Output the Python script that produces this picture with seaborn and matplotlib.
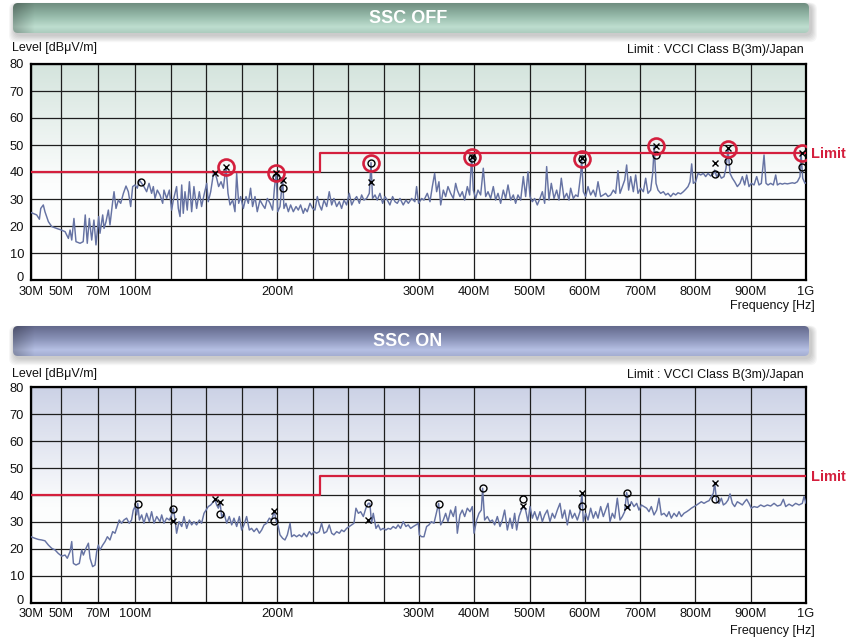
import numpy as np
import matplotlib
matplotlib.use("Agg")
import matplotlib.pyplot as plt
import matplotlib.transforms as mtransforms
import seaborn as sns
import pandas as pd
from matplotlib.patches import FancyBboxPatch

# ---------------- data (MHz, dBuV/m) ----------------
off_freq = [30, 33.8, 35.6, 36.5, 38.2, 39.3, 41.6, 43.8, 47.1, 50.2, 52.2, 54, 54.9, 55.8, 57, 58.1,
            60.3, 62, 63.1, 64.2, 65.3, 66.6, 67.8, 68.9, 70.6, 71.6, 73.8, 74.9, 76.5, 78.4, 79.7,
            81.9, 83, 84.6, 86.5, 88.4, 90.6, 92.7, 94.6, 96.5, 98.1, 100, 101.6, 103.1, 104.7,
            106.3, 108.2, 109.9, 111.7, 112.9, 114.1, 115.7, 117.6, 119.5, 120.4, 122.3, 124.2,
            125.8, 127, 129.3, 130.5, 131.7, 132.9, 134, 135.2, 136.8, 138.3, 139.9, 141.5, 143.4,
            145.3, 146.9, 148.6, 150.5, 151.6, 153.3, 155.2, 156.3, 157.5, 158.9, 160.6, 162.2,
            164.1, 165.5, 166.9, 168.8, 170.4, 171.6, 173, 174.4, 176.3, 178.2, 179.8, 181.4, 182.8,
            184.5, 186.1, 188, 189.9, 191.5, 193.2, 195.1, 196.9, 198.3, 199.5, 200.5, 202.1, 204,
            204.9, 206.3, 208, 209.6, 211.5, 213.4, 215, 216.6, 218.5, 219.7, 221.3, 223.2, 225.1,
            226.7, 228.4, 229.8, 231.4, 233.1, 235, 236.8, 238.5, 240.1, 242, 243.9, 245.5, 247.2,
            249, 250.9, 252.6, 254.2, 256.1, 258, 259.6, 261.2, 263.1, 265, 266.2, 267.3, 269,
            270.6, 272.5, 274.4, 276, 277.7, 279.5, 281.4, 283.1, 284.7, 286.6, 288.9, 290.8,
            292.5, 294.8, 297.1, 298.3, 299.7, 304.8, 309, 315, 319.9, 324.1, 328.3, 331.9, 336.1,
            339.2, 344, 348.2, 352.4, 357.2, 362.1, 366.3, 369.3, 374.1, 378.3, 382.6, 387.4,
            391.6, 395.2, 398.2, 402.5, 406.7, 411.5, 416.3, 420.6, 424.8, 429.6, 434.4, 438.6,
            442.9, 447.7, 452.5, 456.7, 461, 465.8, 470.6, 474.8, 479, 483.9, 488.7, 492.9, 497.1,
            500.8, 505, 509.2, 514, 518.8, 523.1, 527.3, 530.9, 535.1, 539.3, 544.2, 549, 553.2,
            557.4, 562.3, 567.1, 571.3, 574.3, 579.1, 583.4, 587.6, 592.4, 594.2, 597.2, 601.5,
            605.7, 610.5, 615.3, 619.5, 623.8, 628.6, 633.4, 637.6, 641.9, 646.7, 651.5, 655.7,
            659.9, 663.6, 667.8, 672, 675.6, 679.2, 682.9, 687.7, 691.9, 696.1, 701, 705.8, 710,
            714.2, 719, 722.7, 725.5, 728.7, 732.3, 737.1, 742, 746.2, 750.4, 755.2, 760, 764.3,
            768.5, 773.3, 778.1, 782.4, 786.6, 790.2, 793.2, 796.2, 800.4, 804.7, 809.5, 814.3,
            818.5, 822.8, 827.6, 832.4, 834.8, 838.4, 842.7, 846.9, 851.7, 855.3, 858.9, 862.6,
            866.8, 871, 875.8, 880.6, 884.9, 889.1, 892.7, 896.9, 901.1, 906, 910.8, 915, 919.2,
            924.1, 927.7, 931.3, 936.1, 940.9, 945.2, 948.2, 953, 957.2, 961.4, 966.3, 971.1,
            975.3, 979.5, 984.4, 989.2, 991, 994, 998.2, 1000]
off_level = [25, 24.1, 22.5, 26.5, 27.8, 25.3, 21.6, 19.8, 19.1, 18.5, 17.9, 15.4, 18.5, 14.8, 22.8, 14.2,
             13.6, 14.2, 24.1, 13.6, 22.8, 14.8, 22.2, 13, 23.5, 17.3, 24.1, 19.1, 21.6, 25.9, 20.4,
             29, 32.7, 26.5, 29.6, 28.4, 32.1, 34.8, 32.7, 27.2, 34.6, 35.2, 34, 37, 35.8,
             34.6, 32.7, 35.8, 32.1, 34.6, 30.2, 33.3, 31.5, 28.4, 33.3, 30.2, 33.3,
             25.9, 29.6, 34.6, 26.5, 23.5, 35.2, 24.7, 32.7, 25.9, 36.4, 25.3, 34.6, 26.5,
             32.7, 27.2, 31.5, 35.8, 29, 32.7, 39.3, 39.7, 37.7, 34.6, 36.4, 34,
             42, 32.1, 27.8, 29.6, 25.3, 39.5, 28.4, 30.9, 26.5, 30.9, 28.4, 34, 27.2,
             30.9, 25.3, 29.6, 27.8, 26.5, 30.2, 28.4, 25.9, 34.6, 39.8, 25.3, 27.2, 37.6,
             26.5, 28.4, 25.3, 27.8, 25.3, 27.2, 25.9, 27.8, 24.7, 26.5, 25.3, 28.4, 26.5,
             25.9, 30.9, 27.8, 25.9, 29.6, 27.2, 32.7, 27.8, 30.2, 27.2, 29, 26.5, 29.6,
             27.8, 32.1, 27.8, 29.6, 30.9, 28.4, 31.5, 29.6, 30.2, 32.1, 43.5, 30.2, 31.5,
             29.6, 32.1, 28.4, 30.9, 29.6, 27.8, 30.9, 29, 28.4, 30.2, 27.8, 29.6,
             28.4, 30.2, 29, 34.6, 28.4, 30.2, 29.6, 32.1, 29, 34.6, 39.5, 32.7, 36.4,
             27.8, 33.3, 30.9, 34.6, 32.1, 30.2, 35.8, 33.3, 30.9, 32.7, 29.6, 34.6,
             31.5, 46, 33.3, 30.2, 33.3, 31.5, 41.4, 30.9, 32.7, 30.2, 34.6, 29.6,
             32.1, 28.4, 33.3, 30.2, 35.2, 29.6, 31.5, 28.4, 31.5, 29.6, 38.3, 30.9, 40.1,
             30.9, 29, 30.2, 27.8, 30.2, 32.7, 28.4, 42, 29.6, 35.8, 30.2, 33.3, 29.6,
             37.7, 30.2, 32.1, 29.6, 34, 30.2, 31.5, 30.9, 38.9, 45, 32.7, 30.9,
             34.6, 31.5, 33.3, 30.9, 36.4, 30.9, 31.5, 32.1, 30.9, 31.5, 33.3, 32.1,
             40.5, 32.1, 34.6, 37, 42.6, 33.3, 38.3, 32.7, 38.9, 32.1, 34, 32.7, 37.7,
             32.1, 33.3, 39.5, 49.6, 35.8, 33.3, 32.1, 32.7, 31.5, 32.1, 30.9, 32.1, 31.5,
             32.3, 31.9, 32.7, 33.6, 34.6, 36.4, 43, 35.8, 36.4, 39.5, 38.9, 39.5,
             38.3, 39.5, 38.5, 39.3, 40.7, 38.3, 39.5, 37.7, 38.3, 41.4, 48.6, 39.5,
             37.7, 36.4, 34.6, 35.8, 38.3, 35.2, 38.9, 34.6, 35.8, 35.2, 38.3, 35.2, 35.8,
             46.3, 35.8, 35.2, 35.8, 35.2, 38.9, 35.2, 35.8, 35.5, 35.8, 35.6, 35.8,
             36, 35.8, 36.4, 38.3, 47.2, 37.7, 35.8, 36]

on_freq = [30, 32.7, 34.9, 37.1, 39.3, 41.6, 43.8, 46, 48.2, 50.4, 52.2, 53.4, 54.9, 55.8, 56.7, 58.1,
           59.9, 61.2, 62.1, 63.5, 64.8, 65.7, 67.1, 68.4, 69.3, 70.3, 71.6, 73.8, 75.7, 77.6, 79.7,
           81.9, 83.8, 85.6, 87.2, 89.1, 91, 93.2, 95.3, 97.2, 98.6, 100, 101.2, 101.9, 103.1, 104.7,
           106.3, 108.2, 110.1, 111.7, 113.4, 115.3, 117.6, 118.8, 120.4, 122.3, 124.2, 125.8, 127,
           128.2, 129.3, 131, 132.9, 134.5, 136.4, 138.3, 139.9, 141.5, 143.4, 145.3, 146.9, 148.6,
           150, 151.6, 153.3, 155.2, 156.3, 157.5, 158.7, 159.9, 161, 162.7, 164.6, 166.4, 168.1,
           169.7, 171.6, 173.5, 175.1, 176.7, 178.6, 180.5, 182.1, 183.8, 185.7, 187.6, 189.2,
           190.9, 192.7, 194.6, 196.2, 198.1, 199.3, 200.9, 202.1, 204, 205.6, 207.3, 209.2, 210.3,
           212, 213.8, 215.7, 217.4, 219, 220.9, 222.8, 224.4, 226.1, 227.9, 229.8, 231.4, 233.1,
           235, 236.8, 238.5, 240.1, 242, 243.9, 245.5, 247.2, 249, 250.9, 252.6, 254.2, 255.6,
           257.3, 258.9, 260.8, 262.6, 264.3, 265.4, 266.6, 267.8, 269.7, 271.3, 272.9, 274.8,
           276.7, 278.3, 280, 281.8, 283.7, 285.3, 287, 288.9, 290.8, 292.4, 294.1, 296, 297.9,
           299.5, 300.6, 304.8, 309, 313.8, 318, 322.3, 327.1, 331.9, 335.5, 339.2, 344, 348.2,
           352.4, 357.2, 362.1, 366.3, 369.3, 374.1, 378.3, 382.6, 387.4, 392.2, 396.4, 399.5,
           404.3, 408.5, 412.7, 415.1, 418.7, 423.6, 428.4, 432.6, 436.8, 441.7, 446.5, 450.7,
           454.9, 459.8, 464.6, 468.8, 473, 476.6, 480.9, 485.1, 488.7, 492.9, 497.1, 500.8, 505,
           509.2, 514, 518.8, 523.1, 527.3, 532.1, 536.9, 541.2, 545.4, 550.2, 555, 559.2, 563.5,
           568.3, 573.1, 577.3, 581.6, 586.4, 591.2, 594.8, 597.2, 601.5, 605.7, 610.5, 615.3,
           619.5, 623.8, 628.6, 633.4, 637.6, 641.9, 645.5, 649.7, 653.9, 658.7, 663.6, 667.8, 672,
           675.6, 679.8, 684.1, 688.9, 693.7, 697.9, 702.2, 707, 711.8, 716, 720.2, 725.1, 729.9,
           734.1, 738.3, 743.2, 748, 752.2, 756.4, 761.3, 766.1, 770.3, 774.5, 779.3, 784.2, 788.4,
           792.6, 797.4, 802.3, 806.5, 810.7, 815.5, 820.3, 824.6, 828.8, 832.4, 834.8, 838.4,
           842.7, 846.9, 850.5, 854.7, 858.9, 862.6, 866.8, 871, 875.8, 880.6, 884.9, 889.1, 892.7,
           896.9, 901.1, 906, 912, 918, 924.1, 930.1, 936.1, 942.2, 948.2, 954.2, 959, 963.3,
           969.3, 975.3, 981.3, 987.4, 993.4, 996.4, 1000]
on_level = [24.5, 23.9, 23.5, 23.3, 23, 21.4, 20.2, 19.6, 18.3, 17.3, 17.7, 16.5, 19, 22.7, 14.6, 14,
            14.6, 19.6, 17.7, 20.2, 22.1, 16.5, 13.4, 14, 19, 21.4, 19.6, 21.4, 22.7, 24.5, 23.3,
            26.4, 25.8, 28.3, 30.7, 29.5, 30.7, 31.4, 29.5, 30.7, 34.4, 35.7, 32.6, 36.9, 30.7, 32.6,
            29.5, 33.2, 30.1, 33.8, 29.5, 32, 30.1, 32.6, 29.5, 31.4, 30.7, 32.6, 35.1,
            30.7, 25.8, 30.1, 28.3, 32, 27.6, 30.7, 28.9, 30.1, 28.9, 30.7, 29.5, 33.2,
            34.4, 35.7, 36.3, 37.5, 38.4, 36.3, 35.1, 37.3, 32, 33.2, 29.5, 32, 28.9,
            31.4, 28.3, 32, 27, 28.9, 32, 27, 27.6, 26.4, 27.6, 25.8, 27,
            28.9, 29.5, 31.4, 30.7, 34, 30.7, 28.3, 25.2, 23.9, 23.3, 25.2, 29.5, 24.5,
            25.2, 24.5, 25.2, 24.5, 25.8, 24.5, 26.4, 25.2, 26.4, 25.8, 26.4, 29.5, 25.8,
            26.4, 28.9, 25.8, 25.2, 26.4, 25.8, 27, 26.4, 27.6, 28.3, 28.9, 29.5, 35.1,
            33.2, 33.8, 32, 35.1, 36.9, 36.9, 29.5, 33.2, 27.6, 28.9, 27, 27.6,
            27, 27.6, 27.3, 28.3, 27.6, 28.9, 27.6, 30.1, 28.3, 28.9, 27.6, 28.3, 28.9,
            29.5, 25.2, 24.5, 24.5, 28.3, 28.9, 30.1, 29.5, 33.8, 36.9, 28.9, 30.7, 33.2,
            30.1, 34.4, 32, 35.7, 25.8, 32.6, 34.4, 32, 35.1, 33.8, 35.7, 25.8,
            30.7, 33.2, 34.4, 42.5, 30.7, 32, 30.1, 30.7, 28.9, 32, 28.3, 30.7,
            34.4, 27, 31.4, 27.6, 33.2, 27, 32, 34.4, 35.7, 34.4, 30.1, 35.7, 31.4,
            33.8, 30.7, 33.8, 30.1, 32.6, 34.4, 30.1, 33.2, 31.4, 34.4, 36.9, 31.4, 34.4,
            28.9, 34.4, 31.4, 33.2, 30.7, 33.8, 40.6, 30.1, 33.2, 30.7, 35.1, 31.4,
            33.8, 31.4, 35.7, 32, 34.4, 36.9, 30.1, 33.2, 31.4, 38.8, 30.7, 32, 33.8,
            40.9, 35.1, 37.5, 35.7, 36.9, 34.4, 36.3, 35.7, 35.1, 33.8, 35.7, 32.6, 34.4,
            38.8, 32.6, 33.2, 32, 33.8, 31.4, 33.2, 32, 33.8, 32, 33.2, 33.8, 34.4,
            35.1, 35.7, 36.3, 36.9, 37.5, 36.9, 37.5, 37.9, 39.4, 40.6, 44.6, 37.5,
            36.9, 38.8, 36.3, 36.9, 38.1, 40.4, 36.9, 35.7, 37.5, 36.9, 36.3, 37.5, 38.4,
            36.9, 35.1, 35.7, 35.4, 36.3, 35.7, 36.3, 35.9, 36.9, 35.9, 36.3, 38.4, 35.7,
            36.6, 35.9, 36.9, 36.3, 36.9, 39.4, 36.9]

limit_freq = [30, 230, 230, 1000]
limit_level = [40, 40, 47, 47]

# peak markers: quasi-peak (o), peak (x), flagged (red ring)
off_o_freq = [104, 199.5, 204, 266, 395, 594, 728, 835, 859, 992]
off_o_level = [36.4, 38.3, 34, 43.5, 45.2, 44.8, 46.3, 39.3, 44.2, 41.7]
off_x_freq = [156, 164, 199.5, 204, 266, 395, 594, 728, 835, 859, 992]
off_x_level = [39.7, 42, 39.5, 37, 36.4, 45.6, 45.3, 49.6, 43.2, 48.8, 47.2]
off_ring_freq = [164, 199.5, 266, 395, 594, 728, 859, 992]
off_ring_level = [42, 39.5, 43.5, 45.4, 44.8, 49.6, 48.6, 47.2]

on_o_freq = [102, 127, 160, 198, 264, 335.6, 415, 488.6, 594.7, 675.5, 834.7]
on_o_level = [36.7, 34.8, 33, 30.5, 37, 36.7, 42.5, 38.4, 36, 40.9, 38.7]
on_x_freq = [127, 156, 160, 198, 264, 488.6, 594.7, 675.5, 834.7]
on_x_level = [30.5, 38.4, 37.3, 34, 30.7, 36, 40.7, 35.5, 44.6]

x_major = [30, 50, 70, 100, 200, 300, 400, 500, 600, 700, 800, 900, 1000]
x_labels = ["30M", "50M", "70M", "100M", "200M", "300M", "400M", "500M", "600M",
            "700M", "800M", "900M", "1G"]
x_minor = [125, 150, 175, 225, 250, 275]
y_ticks = [0, 10, 20, 30, 40, 50, 60, 70, 80]

# ---------------- style ----------------
sns.set_theme(style="white")
plt.rcParams['font.family'] = ['Liberation Sans', 'DejaVu Sans']

W, H = 849, 638
fig = plt.figure(figsize=(W / 100, H / 100), dpi=100)

TRACE = "#6673a3"
RED = "#d41f3d"

KF = [30, 50, 70, 100, 300, 1000]
KP = [0, 30, 67, 104, 388, 775]


def fwd(f):
    return np.interp(f, KF, KP)


def inv(u):
    return np.interp(u, KP, KF)


# overlay axis in pixel coordinates for banners
ov = fig.add_axes([0, 0, 1, 1], zorder=-1)


def grad_img(stops, n=60):
    pos = [s[0] for s in stops]
    cols = np.array([s[1] for s in stops], dtype=float) / 255.0
    t = np.linspace(0, 1, n)
    img = np.stack([np.interp(t, pos, cols[:, k]) for k in range(3)], axis=-1)
    return img[:, None, :]


def banner(ytop, text, stops):
    x0, x1, h = 13, 809, 30
    for i in range(6, 0, -1):
        sh = FancyBboxPatch((x0 + 2 - i, ytop + 2 - i * 0.4), (x1 - x0) + 2 * i, h + 1.6 * i,
                            boxstyle="round,pad=0,rounding_size=7", fc="black", ec="none",
                            alpha=0.035)
        ov.add_patch(sh)
    box = FancyBboxPatch((x0, ytop), x1 - x0, h, boxstyle="round,pad=0,rounding_size=5",
                         fc="none", ec="none")
    ov.add_patch(box)
    img = grad_img(stops)
    nx = 200
    shade = np.ones(nx)
    shade[:6] = np.linspace(0.78, 1.0, 6)
    img2 = np.clip(img * shade[None, :, None], 0, 1)
    im = ov.imshow(img2, extent=[x0, x1, ytop + h, ytop], aspect="auto",
                   interpolation="bilinear", zorder=1)
    im.set_clip_path(box)
    ov.text(408, ytop + h / 2 + 0.5, text, color="white", fontsize=13, fontweight="bold",
            ha="center", va="center", zorder=2)


banner(3, "SSC OFF", [(0, (112, 142, 128)), (0.45, (152, 188, 172)), (0.8, (190, 222, 207)),
                      (1.0, (172, 204, 190))])
banner(326, "SSC ON", [(0, (100, 105, 140)), (0.45, (140, 149, 186)), (0.8, (182, 192, 228)),
                       (1.0, (164, 174, 210))])
ov.set_xlim(0, W)
ov.set_ylim(H, 0)
ov.set_axis_off()


def panel(top_px, bot_px, freq, level, o_f, o_l, x_f, x_l, ring_f, ring_l, top_col):
    pos = [31 / W, 1 - bot_px / H, 775 / W, (bot_px - top_px) / H]
    bg = fig.add_axes(pos, zorder=0)
    g = grad_img([(0, top_col), (0.55, (252, 253, 253)), (1.0, (255, 255, 255))], n=100)
    bg.imshow(g, aspect="auto", extent=[0, 1, 0, 1], interpolation="bilinear")
    bg.set_axis_off()

    ax = fig.add_axes(pos, zorder=1)
    ax.patch.set_alpha(0)
    df = pd.DataFrame({"freq": freq, "level": level})
    sns.lineplot(data=df, x="freq", y="level", ax=ax, color=TRACE, lw=1.05, sort=False,
                 estimator=None, zorder=3)
    ax.plot(limit_freq, limit_level, color=RED, lw=1.6, zorder=4)
    ax.plot(o_f, o_l, ls="none", marker="o", ms=5, mfc="none", mec="black", mew=1.0, zorder=5)
    ax.plot(x_f, x_l, ls="none", marker="x", ms=5, mec="black", mew=1.0, zorder=5)
    if ring_f:
        ax.plot(ring_f, ring_l, ls="none", marker="o", ms=11.5, mfc="none", mec=RED, mew=1.9,
                zorder=6)

    ax.set_xscale("function", functions=(fwd, inv))
    ax.set_xlim(30, 1000)
    ax.set_ylim(0, 80)
    ax.set_xticks(x_major)
    ax.set_xticklabels(x_labels)
    ax.set_xticks(x_minor, minor=True)
    ax.set_yticks(y_ticks)
    ax.set_yticklabels([str(v) for v in y_ticks])
    ax.set_axisbelow(True)
    ax.grid(True, which="both", axis="x", color="#1e1e1e", lw=0.9)
    ax.grid(True, which="major", axis="y", color="#1e1e1e", lw=0.9)
    ax.tick_params(axis="both", which="both", length=0, labelsize=9.3, colors="#111111")
    ax.tick_params(axis="y", pad=5)
    ax.tick_params(axis="x", pad=4)
    ax.set_xlabel("")
    ax.set_ylabel("")
    for s in ax.spines.values():
        s.set_visible(True)
        s.set_color("black")
        s.set_linewidth(1.6)
    # lift the "0" label slightly so it clears the first x label (as in the reference)
    zero = ax.get_yticklabels()[0]
    zero.set_transform(zero.get_transform() +
                       mtransforms.ScaledTranslation(0, 3.5 / 100, fig.dpi_scale_trans))
    return ax


panel(64, 280, off_freq, off_level, off_o_freq, off_o_level, off_x_freq, off_x_level,
      off_ring_freq, off_ring_level, (212, 228, 221))
panel(387.3, 602.7, on_freq, on_level, on_o_freq, on_o_level, on_x_freq, on_x_level,
      [], [], (204, 210, 230))


def ptext(x, y, s, **kw):
    fig.text(x / W, 1 - y / H, s, **kw)


for yl, yr, ylim, yf in [(48, 50, 154, 306), (374, 375, 477, 631)]:
    ptext(12, yl, "Level [dBμV/m]", fontsize=9, ha="left", va="center", color="#111111")
    ptext(804, yr, "Limit : VCCI Class B(3m)/Japan", fontsize=9, ha="right", va="center",
          color="#111111")
    ptext(811, ylim, "Limit", fontsize=10.5, fontweight="bold", ha="left", va="center",
          color=RED)
    ptext(815, yf, "Frequency [Hz]", fontsize=9, ha="right", va="center", color="#111111")

fig.savefig("out.png", dpi=100)
